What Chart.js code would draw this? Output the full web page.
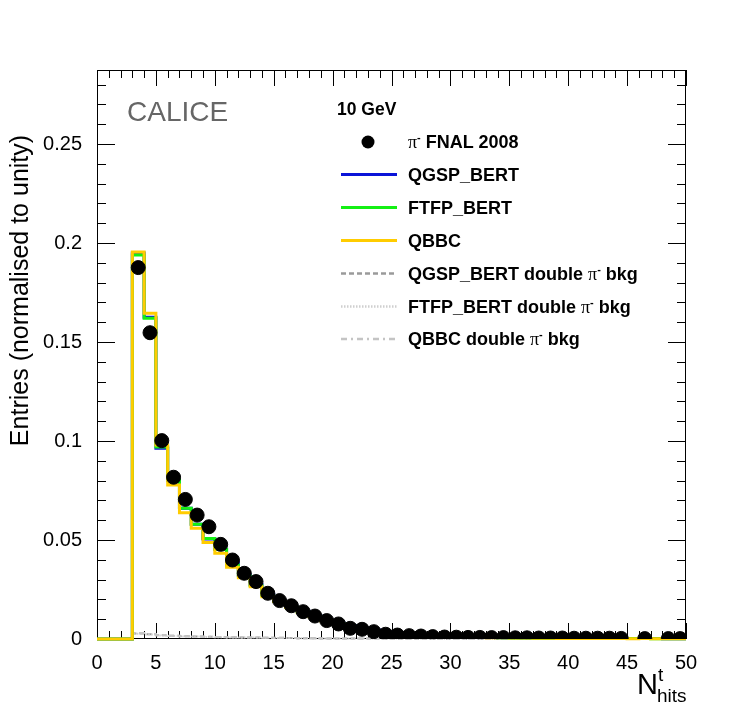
<!DOCTYPE html>
<html>
<head>
<meta charset="utf-8">
<script src="https://cdn.jsdelivr.net/npm/chart.js@4"></script>
<style>
  body { margin: 0; background: #fff; }
  #wrap { position: relative; width: 747px; height: 711px; font-family: 'Liberation Sans', Arial, sans-serif; }
  #wrap canvas { position: absolute; left: 0; top: 0; }
  .txt { position: absolute; white-space: nowrap; line-height: 1; color: #000; }
  .leg { font-size: 18px; font-weight: bold; }
  .sym { font-family: 'Liberation Serif', 'DejaVu Serif', serif; font-weight: normal; }
  .leg sup { font-size: 11px; vertical-align: 7px; line-height: 0; }
  #ytitle { font-size: 25px; width: 400px; text-align: center; transform: rotate(-90deg); }
</style>
</head>
<body>
<div id="wrap">
  <canvas id="hitsChart" width="747" height="711"></canvas>
  <svg id="legendMarks" width="747" height="711" style="position:absolute;left:0;top:0"></svg>
  <div class="txt" style="left:127px;top:98px;font-size:28px;color:#666">CALICE</div>
  <div class="txt" style="left:337px;top:101px;font-size:17.5px;font-weight:bold">10 GeV</div>
  <div id="legendText"></div>
  <div id="ytitle" class="txt" style="left:-181px;top:278px">Entries (normalised to unity)</div>
  <div class="txt" style="left:637px;top:670px;font-size:29px">N</div>
  <div class="txt" style="left:658px;top:665px;font-size:19px">t</div>
  <div class="txt" style="left:657px;top:686px;font-size:19px">hits</div>
</div>
<script>
// bin edges 0..50, width 1
const binEdges = Array.from({ length: 51 }, (_, i) => i);

const xTicks = [0, 5, 10, 15, 20, 25, 30, 35, 40, 45, 50];
const yTicks = [0, 0.05, 0.1, 0.15, 0.2, 0.25];
const yTickLabels = ['0', '0.05', '0.1', '0.15', '0.2', '0.25'];

// data, pi- FNAL 2008 (null = empty bin)
const dataFnal = [null, null, null, 0.1876, 0.1547, 0.1002, 0.0817, 0.0705, 0.0626, 0.0567,
  0.0478, 0.0399, 0.0332, 0.0290, 0.0231, 0.0194, 0.0168, 0.0138, 0.0116, 0.0093,
  0.0076, 0.0054, 0.0049, 0.0037, 0.0024, 0.0020, 0.0017, 0.0015, 0.0012, 0.0010,
  0.0009, 0.0008, 0.0008, 0.0007, 0.0007, 0.0006, 0.0006, 0.0005, 0.0005, 0.0005,
  0.0004, 0.0004, 0.0004, 0.0004, 0.0003, null, 0.0002, null, 0.0002, 0.0002];

const qgspBert = [0, 0, 0, 0.1950, 0.1625, 0.0963, 0.0800, 0.0660, 0.0580, 0.0505,
  0.0453, 0.0386, 0.0325, 0.0275, 0.0225, 0.0192, 0.0165, 0.0140, 0.0117, 0.0095,
  0.0080, 0.0068, 0.0055, 0.0045, 0.0035, 0.0028, 0.0022, 0.0018, 0.0014, 0.0012,
  0.0010, 0.0009, 0.0008, 0.0007, 0.0006, 0.0006, 0.0005, 0.0005, 0.0004, 0.0004,
  0.0003, 0.0003, 0.0003, 0.0002, 0.0002, 0.0002, 0.0002, 0.0002, 0.0001, 0.0001];

const ftfpBert = [0, 0, 0, 0.1940, 0.1620, 0.0970, 0.0803, 0.0660, 0.0580, 0.0508,
  0.0453, 0.0374, 0.0320, 0.0270, 0.0220, 0.0190, 0.0162, 0.0137, 0.0115, 0.0093,
  0.0077, 0.0064, 0.0052, 0.0042, 0.0033, 0.0026, 0.0021, 0.0017, 0.0013, 0.0011,
  0.0009, 0.0008, 0.0007, 0.0007, 0.0006, 0.0005, 0.0005, 0.0004, 0.0004, 0.0004,
  0.0003, 0.0003, 0.0003, 0.0002, 0.0002, 0.0002, 0.0002, 0.0001, 0.0001, 0.0001];

const qbbc = [0, 0, 0, 0.1955, 0.1645, 0.0980, 0.0778, 0.0638, 0.0559, 0.0487,
  0.0433, 0.0362, 0.0310, 0.0264, 0.0214, 0.0189, 0.0160, 0.0134, 0.0112, 0.0091,
  0.0075, 0.0062, 0.0050, 0.0040, 0.0031, 0.0025, 0.0020, 0.0016, 0.0013, 0.0011,
  0.0009, 0.0008, 0.0007, 0.0006, 0.0006, 0.0005, 0.0005, 0.0004, 0.0004, 0.0003,
  0.0003, 0.0003, 0.0002, 0.0002, 0.0002, 0.0001, 0.0002, 0.0001, 0.0001, 0.0001];

// double pi- background
const qgspBkg = [0, 0, 0, 0.0028, 0.0024, 0.0019, 0.0016, 0.0014, 0.0012, 0.0011,
  0.0010, 0.0009, 0.0008, 0.0007, 0.0006, 0.0006, 0.0005, 0.0004, 0.0004, 0.0003,
  0.0003, 0.0002, 0.0002, 0.0002, 0.0001, 0.0001, 0.0001, 0.0001, 0, 0,
  0, 0, 0, 0, 0, 0, 0, 0, 0, 0,
  0, 0, 0, 0, 0, 0, 0, 0, 0, 0];

const ftfpBkg = [0, 0, 0, 0.0026, 0.0023, 0.0018, 0.0015, 0.0013, 0.0012, 0.0010,
  0.0009, 0.0008, 0.0007, 0.0007, 0.0006, 0.0005, 0.0005, 0.0004, 0.0003, 0.0003,
  0.0002, 0.0002, 0.0002, 0.0001, 0.0001, 0.0001, 0.0001, 0.0001, 0, 0,
  0, 0, 0, 0, 0, 0, 0, 0, 0, 0,
  0, 0, 0, 0, 0, 0, 0, 0, 0, 0];

const qbbcBkg = [0, 0, 0, 0.0030, 0.0025, 0.0020, 0.0017, 0.0014, 0.0012, 0.0011,
  0.0010, 0.0009, 0.0008, 0.0007, 0.0006, 0.0005, 0.0005, 0.0004, 0.0004, 0.0003,
  0.0003, 0.0002, 0.0002, 0.0002, 0.0001, 0.0001, 0.0001, 0.0001, 0, 0,
  0, 0, 0, 0, 0, 0, 0, 0, 0, 0,
  0, 0, 0, 0, 0, 0, 0, 0, 0, 0];

function histPoints(vals) {
  const pts = vals.map((v, i) => ({ x: binEdges[i], y: v }));
  pts.push({ x: binEdges[vals.length], y: vals[vals.length - 1] });
  return pts;
}

function histSet(label, vals, color, width, dash) {
  return {
    label: label,
    data: histPoints(vals),
    showLine: true,
    stepped: true,
    borderColor: color,
    borderWidth: width,
    borderDash: dash || [],
    pointRadius: 0,
    fill: false,
    clip: 3,
  };
}

const legendItems = [
  { label: 'QGSP_BERT', color: '#0a14d8', width: 3, dash: [] },
  { label: 'FTFP_BERT', color: '#14f014', width: 3, dash: [] },
  { label: 'QBBC', color: '#ffcc00', width: 3, dash: [] },
  { label: 'QGSP_BERT double', color: '#9a9a9a', width: 2.5, dash: [5, 3] },
  { label: 'FTFP_BERT double', color: '#cfcfcf', width: 2.5, dash: [1.5, 1.5] },
  { label: 'QBBC double', color: '#c4c4c4', width: 2.5, dash: [6, 4, 2, 4] },
];

// ROOT style frame with inward ticks on all four sides
const rootFrame = {
  id: 'rootFrame',
  beforeDatasetsDraw(chart) {
    const { ctx, chartArea: a, scales: { x, y } } = chart;
    ctx.save();
    ctx.strokeStyle = '#000';
    ctx.lineWidth = 1;
    ctx.beginPath();
    for (let v = 0; v <= 50; v++) {
      const px = Math.round(x.getPixelForValue(v)) + 0.5;
      const len = v % 5 === 0 ? 16 : 8;
      ctx.moveTo(px, a.bottom); ctx.lineTo(px, a.bottom - len);
      ctx.moveTo(px, a.top); ctx.lineTo(px, a.top + len);
    }
    for (let i = 0; i <= 28; i++) {
      const py = Math.round(y.getPixelForValue(i / 100)) + 0.5;
      const len = i % 5 === 0 ? 18 : 9;
      ctx.moveTo(a.left, py); ctx.lineTo(a.left + len, py);
      ctx.moveTo(a.right, py); ctx.lineTo(a.right - len, py);
    }
    ctx.stroke();
    ctx.strokeRect(a.left + 0.5, a.top + 0.5, a.right - a.left - 1, a.bottom - a.top - 1);
    ctx.restore();
  }
};

const ctx = document.getElementById('hitsChart').getContext('2d');

new Chart(ctx, {
  type: 'scatter',
  data: {
    datasets: [
      {
        label: 'pi- FNAL 2008',
        data: dataFnal.map((v, i) => ({ x: binEdges[i] + 0.5, y: v })).filter(p => p.y !== null),
        backgroundColor: '#000',
        borderColor: '#000',
        pointRadius: 7,
        showLine: false,
      },
      histSet('QBBC', qbbc, legendItems[2].color, 3),
      histSet('FTFP_BERT', ftfpBert, legendItems[1].color, 3),
      histSet('QGSP_BERT', qgspBert, legendItems[0].color, 3),
      histSet('QBBC double pi- bkg', qbbcBkg, legendItems[5].color, 2, legendItems[5].dash),
      histSet('FTFP_BERT double pi- bkg', ftfpBkg, legendItems[4].color, 2, legendItems[4].dash),
      histSet('QGSP_BERT double pi- bkg', qgspBkg, legendItems[3].color, 2, legendItems[3].dash),
    ],
  },
  options: {
    responsive: false,
    animation: false,
    devicePixelRatio: 1,
    layout: { padding: { top: 70, right: 61, left: 0, bottom: 0 } },
    plugins: { legend: { display: false }, tooltip: { enabled: false } },
    scales: {
      x: {
        type: 'linear',
        min: 0,
        max: 50,
        grid: { display: false },
        border: { display: false },
        afterBuildTicks: scale => { scale.ticks = xTicks.map(v => ({ value: v })); },
        afterFit: scale => { scale.height = 72; },
        ticks: {
          color: '#000',
          padding: 4,
          maxRotation: 0,
          font: { family: 'Liberation Sans', size: 20 },
          callback: v => String(v),
        },
      },
      y: {
        type: 'linear',
        min: 0,
        max: 0.2874,
        grid: { display: false },
        border: { display: false },
        afterBuildTicks: scale => { scale.ticks = yTicks.map(v => ({ value: v })); },
        afterFit: scale => { scale.width = 97; },
        ticks: {
          color: '#000',
          padding: 7,
          font: { family: 'Liberation Sans', size: 20 },
          callback: v => yTickLabels[yTicks.indexOf(v)] ?? '',
        },
      },
    },
  },
  plugins: [rootFrame],
});

// legend inside the frame
const legendRows = [
  { html: '<span class="sym">&pi;</span><sup>-</sup> FNAL 2008', base: 148.5 },
  { html: 'QGSP_BERT', base: 181 },
  { html: 'FTFP_BERT', base: 214 },
  { html: 'QBBC', base: 247 },
  { html: 'QGSP_BERT double <span class="sym">&pi;</span><sup>-</sup> bkg', base: 280 },
  { html: 'FTFP_BERT double <span class="sym">&pi;</span><sup>-</sup> bkg', base: 313 },
  { html: 'QBBC double <span class="sym">&pi;</span><sup>-</sup> bkg', base: 345.5 },
];
const legendText = document.getElementById('legendText');
legendText.innerHTML = legendRows.map(r =>
  `<div class="txt leg" style="left:408px;top:${(r.base - 15.2).toFixed(1)}px">${r.html}</div>`
).join('');

const svg = document.getElementById('legendMarks');
let marks = `<circle cx="368" cy="142" r="6.5" fill="#000"/>`;
legendItems.forEach((it, i) => {
  const yy = legendRows[i + 1].base - 6.5;
  marks += `<line x1="341" x2="397" y1="${yy}" y2="${yy}" stroke="${it.color}" stroke-width="${it.width}"` +
    (it.dash.length ? ` stroke-dasharray="${it.dash.join(',')}"` : '') + '/>';
});
svg.innerHTML = marks;
</script>
</body>
</html>
